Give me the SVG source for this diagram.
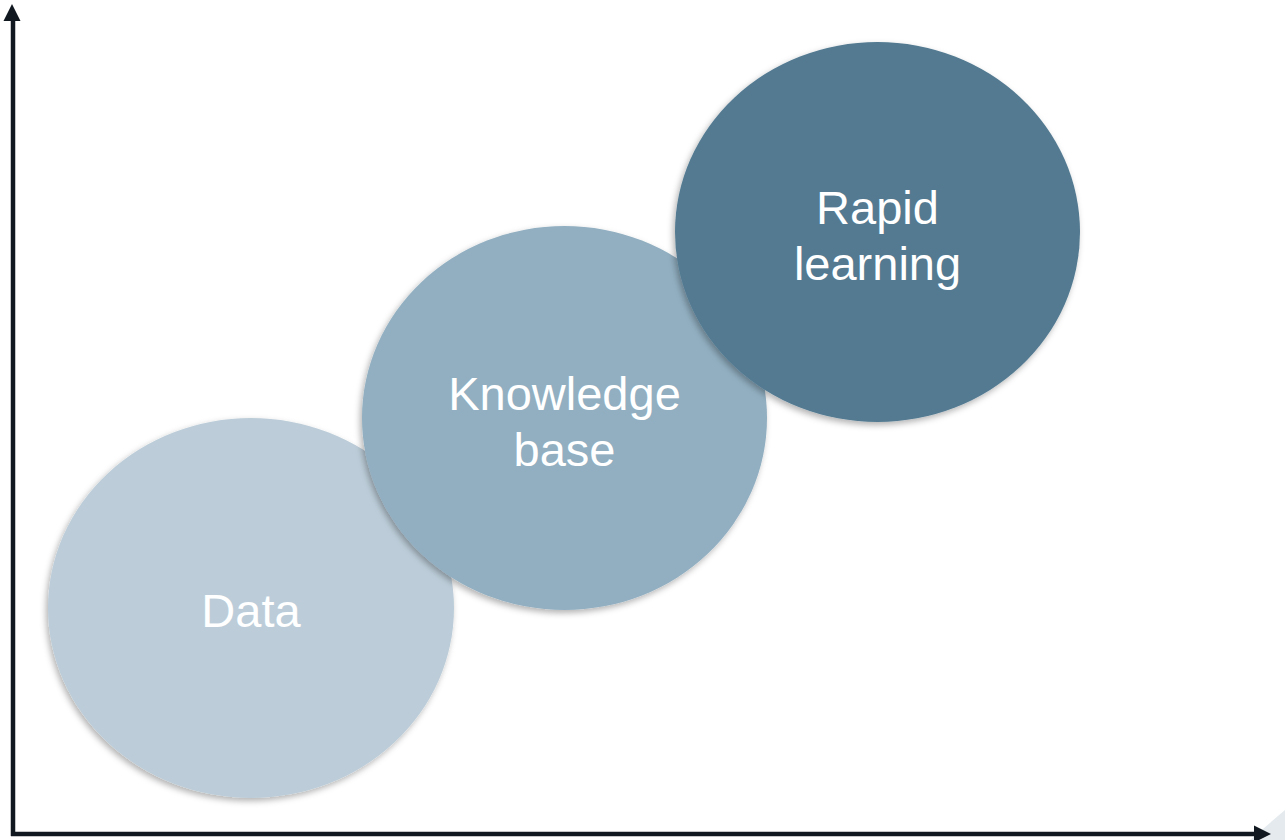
<svg xmlns="http://www.w3.org/2000/svg" width="1285" height="840" viewBox="0 0 1285 840">
<defs>
<filter id="sh" x="-10%" y="-10%" width="120%" height="120%">
<feDropShadow dx="-2" dy="3" stdDeviation="3" flood-color="#000" flood-opacity="0.3"/>
</filter>
</defs>
<style>
.lbl{font-family:"Liberation Sans",Arial,sans-serif;font-size:47px;fill:#fff;text-anchor:middle}
.ax{stroke:#111820;stroke-width:4.5;fill:none}
.head{fill:#111820}
</style>
<rect width="1285" height="840" fill="#fff"/>
<polygon points="1250,840 1285,810 1285,840" fill="#e4eaee"/>
<g id="axes">
<line class="ax" x1="13" y1="836" x2="13" y2="18"/>
<polygon class="head" points="12,4 20.5,21 3.5,21"/>
<line class="ax" x1="11" y1="834" x2="1256" y2="834"/>
<polygon class="head" points="1271,834 1254,825.5 1254,842.5"/>
</g>
<g id="data">
<ellipse cx="251" cy="608" rx="203" ry="190" fill="#bccdd9" filter="url(#sh)"/>
<text class="lbl" x="251" y="627">Data</text>
</g>
<g id="knowledge">
<ellipse cx="564.5" cy="418" rx="202.5" ry="192" fill="#91afc1" filter="url(#sh)"/>
<text class="lbl" x="564.5" y="410">Knowledge</text>
<text class="lbl" x="564.5" y="466">base</text>
</g>
<g id="rapid">
<ellipse cx="877.5" cy="232" rx="202.5" ry="190" fill="#527a91" filter="url(#sh)"/>
<text class="lbl" x="877.5" y="224">Rapid</text>
<text class="lbl" x="877.5" y="280">learning</text>
</g>
</svg>
